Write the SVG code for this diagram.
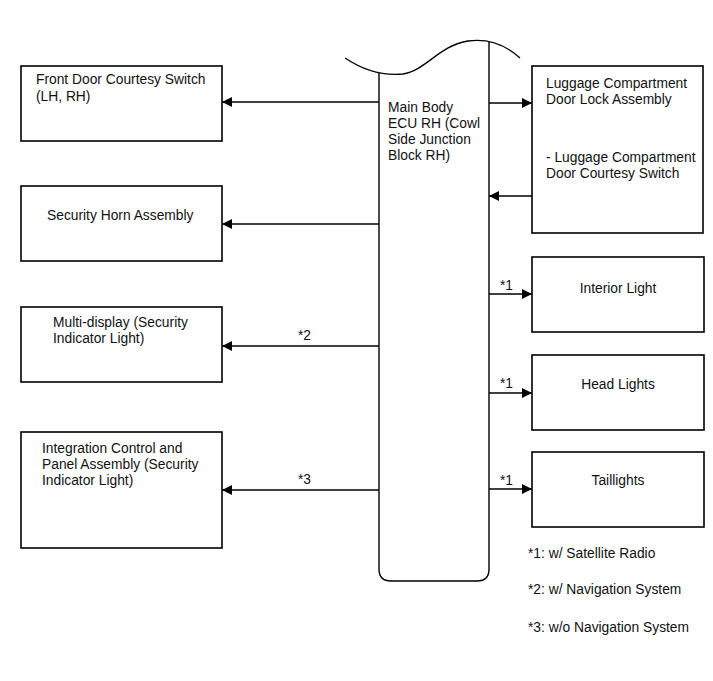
<svg xmlns="http://www.w3.org/2000/svg" width="713" height="681" viewBox="0 0 713 681">
<style>
.box{fill:#fff;stroke:#000;stroke-width:1.6}
.ln{fill:none;stroke:#000;stroke-width:1.4}
text{font-family:"Liberation Sans",Arial,sans-serif;font-size:13.8px;fill:#111}
.c{text-anchor:middle}
</style>
<defs>
<marker id="ah" viewBox="0 0 10 10" refX="10" refY="5" markerWidth="10" markerHeight="10" markerUnits="userSpaceOnUse" orient="auto">
<path d="M0,0 L10,5 L0,10 Z" fill="#000"/>
</marker>
</defs>
<rect width="713" height="681" fill="#fff"/>
<g id="ecu">
<path class="ln" d="M379,73 L379,569 Q379,581 391,581 L477,581 Q489,581 489,569 L489,42"/>
<path class="ln" stroke-width="1" d="M345,58 C363,70 383,76 403,74 C425,71 440,45 468,41 C490,38 508,47 520,58"/>
<text x="388" y="112">Main Body</text>
<text x="388" y="128">ECU RH (Cowl</text>
<text x="388" y="144">Side Junction</text>
<text x="388" y="160">Block RH)</text>
</g>
<g id="front-door"><rect class="box" x="21" y="66" width="201" height="75"/>
<text x="36" y="84">Front Door Courtesy Switch</text><text x="36" y="101">(LH, RH)</text></g>
<g id="horn"><rect class="box" x="21" y="186" width="201" height="75"/>
<text x="47" y="220">Security Horn Assembly</text></g>
<g id="multi"><rect class="box" x="21" y="307" width="201" height="75"/>
<text x="53" y="327">Multi-display (Security</text><text x="53" y="343">Indicator Light)</text></g>
<g id="integration"><rect class="box" x="21" y="432" width="201" height="116"/>
<text x="42" y="453">Integration Control and</text><text x="42" y="469">Panel Assembly (Security</text><text x="42" y="485">Indicator Light)</text></g>
<g id="luggage"><rect class="box" x="532" y="66" width="171" height="167"/>
<text x="546" y="88">Luggage Compartment</text><text x="546" y="104">Door Lock Assembly</text>
<text x="546" y="162">- Luggage Compartment</text><text x="546" y="178">Door Courtesy Switch</text></g>
<g id="interior"><rect class="box" x="532" y="257" width="172" height="75"/>
<text class="c" x="618" y="293">Interior Light</text></g>
<g id="head"><rect class="box" x="532" y="355" width="172" height="75"/>
<text class="c" x="618" y="389">Head Lights</text></g>
<g id="tail"><rect class="box" x="532" y="452" width="172" height="75"/>
<text class="c" x="618" y="485">Taillights</text></g>
<g id="connectors">
<line class="ln" x1="379" y1="102" x2="222" y2="102" marker-end="url(#ah)"/>
<line class="ln" x1="379" y1="224" x2="222" y2="224" marker-end="url(#ah)"/>
<line class="ln" x1="379" y1="346" x2="222" y2="346" marker-end="url(#ah)"/>
<line class="ln" x1="379" y1="490" x2="222" y2="490" marker-end="url(#ah)"/>
<line class="ln" x1="489" y1="103" x2="532" y2="103" marker-end="url(#ah)"/>
<line class="ln" x1="532" y1="196" x2="489" y2="196" marker-end="url(#ah)"/>
<line class="ln" x1="489" y1="294" x2="532" y2="294" marker-end="url(#ah)"/>
<line class="ln" x1="489" y1="393" x2="532" y2="393" marker-end="url(#ah)"/>
<line class="ln" x1="489" y1="489" x2="532" y2="489" marker-end="url(#ah)"/>
<text x="298" y="340">*2</text>
<text x="298" y="484">*3</text>
<text x="500" y="290">*1</text>
<text x="500" y="388">*1</text>
<text x="500" y="485">*1</text>
</g>
<g id="notes">
<text x="528" y="558">*1: w/ Satellite Radio</text>
<text x="528" y="594">*2: w/ Navigation System</text>
<text x="528" y="632">*3: w/o Navigation System</text>
</g>
</svg>
